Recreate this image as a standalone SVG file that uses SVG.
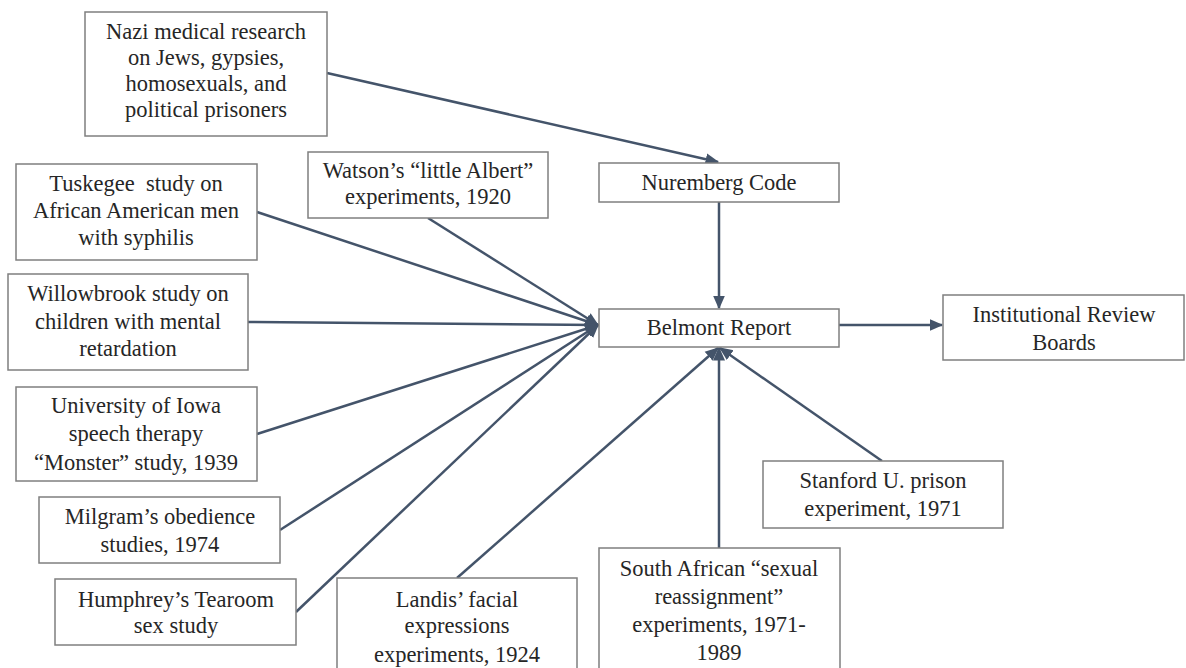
<svg xmlns="http://www.w3.org/2000/svg" width="1186" height="668" viewBox="0 0 1186 668">
<style>
.box{fill:#fff;stroke:#7f7f7f;stroke-width:1.5}
.t{font-family:'Liberation Serif','DejaVu Serif',serif;font-size:22.5px;fill:#262626;text-anchor:middle}
.c{stroke:#44546a;stroke-width:2.5;fill:none;marker-end:url(#ah)}
</style>
<defs>
<marker id="ah" markerWidth="6" markerHeight="6" refX="5" refY="3" orient="auto" markerUnits="strokeWidth">
<path d="M0,0.6 L5.5,3 L0,5.4 Z" fill="#44546a"/>
</marker>
</defs>
<rect width="1186" height="668" fill="#fff"/>
<g id="connectors">
<line class="c" x1="327" y1="73" x2="718" y2="162"/>
<line class="c" x1="719" y1="202" x2="719" y2="308"/>
<line class="c" x1="839" y1="325" x2="942" y2="325"/>
<line class="c" x1="257" y1="212" x2="598" y2="325"/>
<line class="c" x1="428" y1="218" x2="598" y2="325"/>
<line class="c" x1="248" y1="322" x2="598" y2="325"/>
<line class="c" x1="257" y1="434" x2="598" y2="325"/>
<line class="c" x1="280" y1="530" x2="598" y2="325"/>
<line class="c" x1="296" y1="612" x2="598" y2="325"/>
<line class="c" x1="457" y1="578" x2="718" y2="348"/>
<line class="c" x1="719" y1="548" x2="719" y2="348"/>
<line class="c" x1="882" y1="461" x2="720" y2="348"/>
</g>
<g id="nazi"><rect class="box" x="85" y="12" width="242" height="124"/>
<text class="t" x="206" y="39">Nazi medical research</text><text class="t" x="206" y="65">on Jews, gypsies,</text><text class="t" x="206" y="91">homosexuals, and</text><text class="t" x="206" y="117">political prisoners</text></g>
<g id="watson"><rect class="box" x="308" y="152" width="240" height="66"/>
<text class="t" x="428" y="178">Watson’s “little Albert”</text><text class="t" x="428" y="204">experiments, 1920</text></g>
<g id="nuremberg"><rect class="box" x="599" y="163" width="240" height="39"/>
<text class="t" x="719" y="190">Nuremberg Code</text></g>
<g id="tuskegee"><rect class="box" x="16" y="164" width="241" height="96"/>
<text class="t" x="136" y="191" xml:space="preserve">Tuskegee  study on</text><text class="t" x="136" y="218">African American men</text><text class="t" x="136" y="245">with syphilis</text></g>
<g id="willowbrook"><rect class="box" x="8" y="274" width="240" height="96"/>
<text class="t" x="128" y="301">Willowbrook study on</text><text class="t" x="128" y="329">children with mental</text><text class="t" x="128" y="356">retardation</text></g>
<g id="belmont"><rect class="box" x="599" y="309" width="240" height="38"/>
<text class="t" x="719" y="335">Belmont Report</text></g>
<g id="irb"><rect class="box" x="943" y="295" width="241" height="65"/>
<text class="t" x="1064" y="322">Institutional Review</text><text class="t" x="1064" y="350">Boards</text></g>
<g id="iowa"><rect class="box" x="16" y="387" width="241" height="94"/>
<text class="t" x="136" y="413">University of Iowa</text><text class="t" x="136" y="441">speech therapy</text><text class="t" x="136" y="470">“Monster” study, 1939</text></g>
<g id="milgram"><rect class="box" x="39" y="497" width="241" height="66"/>
<text class="t" x="160" y="524">Milgram’s obedience</text><text class="t" x="160" y="552">studies, 1974</text></g>
<g id="humphrey"><rect class="box" x="55" y="579" width="241" height="66"/>
<text class="t" x="176" y="607">Humphrey’s Tearoom</text><text class="t" x="176" y="633">sex study</text></g>
<g id="landis"><rect class="box" x="337" y="578" width="240" height="100"/>
<text class="t" x="457" y="607">Landis’ facial</text><text class="t" x="457" y="633">expressions</text><text class="t" x="457" y="662">experiments, 1924</text></g>
<g id="southafrican"><rect class="box" x="599" y="548" width="241" height="130"/>
<text class="t" x="719" y="576">South African “sexual</text><text class="t" x="719" y="604">reassignment”</text><text class="t" x="719" y="632">experiments, 1971-</text><text class="t" x="719" y="660">1989</text></g>
<g id="stanford"><rect class="box" x="763" y="461" width="240" height="67"/>
<text class="t" x="883" y="488">Stanford U. prison</text><text class="t" x="883" y="516">experiment, 1971</text></g>
</svg>
